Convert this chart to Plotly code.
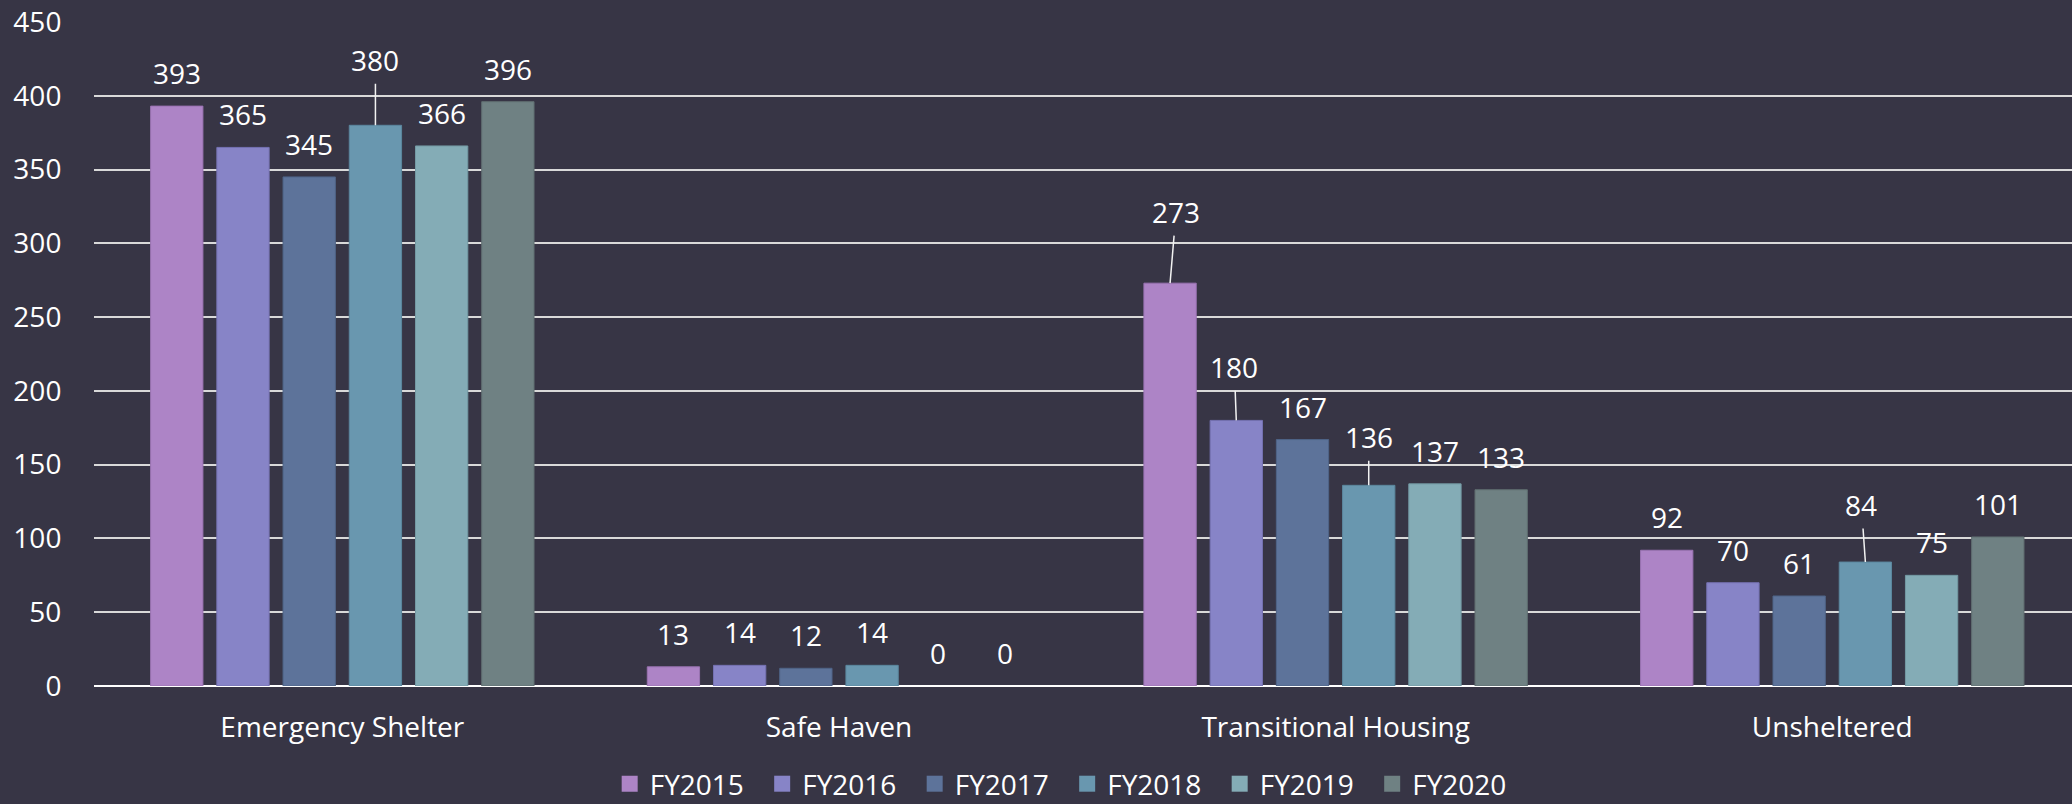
import plotly.graph_objects as go

categories = ["Emergency Shelter", "Safe Haven", "Transitional Housing", "Unsheltered"]
years = ["FY2015", "FY2016", "FY2017", "FY2018", "FY2019", "FY2020"]
fy2015 = [393, 13, 273, 92]
fy2016 = [365, 14, 180, 70]
fy2017 = [345, 12, 167, 61]
fy2018 = [380, 14, 136, 84]
fy2019 = [366, 0, 137, 75]
fy2020 = [396, 0, 133, 101]
series = [fy2015, fy2016, fy2017, fy2018, fy2019, fy2020]
y_ticks = [0, 50, 100, 150, 200, 250, 300, 350, 400, 450]

colors = ["#AD84C6", "#8784C7", "#5D739A", "#6997AF", "#84ACB6", "#6F8183"]
outlines = ["#9A73B2", "#7572B2", "#4F6487", "#5B879E", "#7399A3", "#606F71"]

# leader-line label offsets in pixels: (series index, category index) -> (dx, dy)
leader = {(3, 0): (0, -65), (0, 2): (6, -71), (1, 2): (-2, -53), (3, 2): (0, -48), (3, 3): (-4, -57)}

FONT = "Open Sans"
FS = 28
BG = "#373545"
bargap = 0.2
n = len(years)

fig = go.Figure()
for i, (yr, vals) in enumerate(zip(years, series)):
    fig.add_trace(go.Bar(
        name=yr, x=categories, y=vals,
        marker=dict(color=colors[i], line=dict(color=outlines[i], width=[1 if v > 0 else 0 for v in vals])),
        showlegend=False, hoverinfo="x+y+name",
    ))
    fig.add_trace(go.Scatter(
        name=yr, x=[None], y=[None], mode="markers",
        marker=dict(symbol="square", size=16, color=colors[i]),
        showlegend=True,
    ))

annotations = []
for i, vals in enumerate(series):
    for c, v in enumerate(vals):
        xpos = c + (i - (n - 1) / 2) * (1 - bargap) / n
        if (i, c) in leader:
            dx, dy = leader[(i, c)]
            annotations.append(dict(
                x=xpos, y=v, xref="x", yref="y", text=str(v),
                showarrow=True, arrowhead=0, arrowwidth=1.5, arrowcolor="#F2F2F2",
                ax=dx, ay=dy, standoff=0, borderpad=4,
                font=dict(family=FONT, size=FS, color="#FFFFFF"),
            ))
        else:
            annotations.append(dict(
                x=xpos, y=v, xref="x", yref="y", text=str(v),
                showarrow=False, yanchor="bottom", yshift=12,
                font=dict(family=FONT, size=FS, color="#FFFFFF"),
            ))

fig.update_layout(
    width=2072, height=804,
    paper_bgcolor=BG, plot_bgcolor=BG,
    margin=dict(l=94, r=0, t=22, b=118, autoexpand=False),
    barmode="group", bargap=bargap, bargroupgap=0.21,
    font=dict(family=FONT, size=FS, color="#FFFFFF"),
    annotations=annotations,
    legend=dict(
        orientation="h", x=0.492, xanchor="center", y=-0.1476, yanchor="middle",
        font=dict(family=FONT, size=FS, color="#FFFFFF"),
        bgcolor="rgba(0,0,0,0)", itemsizing="trace",
        entrywidth=107.5, entrywidthmode="pixels",
    ),
    xaxis=dict(
        range=[-0.5, 3.4827], showgrid=False, showline=False, zeroline=False,
        ticks="outside", ticklen=16, tickcolor="rgba(0,0,0,0)",
        tickfont=dict(family=FONT, size=FS, color="#FFFFFF"),
    ),
    yaxis=dict(
        range=[0, 450], tickvals=y_ticks, showgrid=True, gridcolor="#D9D9D9", gridwidth=1.5,
        zeroline=True, zerolinecolor="#FFFFFF", zerolinewidth=2, showline=False,
        ticks="outside", ticklen=26, tickcolor="rgba(0,0,0,0)",
        tickfont=dict(family=FONT, size=FS, color="#FFFFFF"),
    ),
)

fig.write_html(
    "out.html",
    config={"displayModeBar": False},
    post_script="document.body.style.margin='0';document.body.style.background='#373545';",
)
